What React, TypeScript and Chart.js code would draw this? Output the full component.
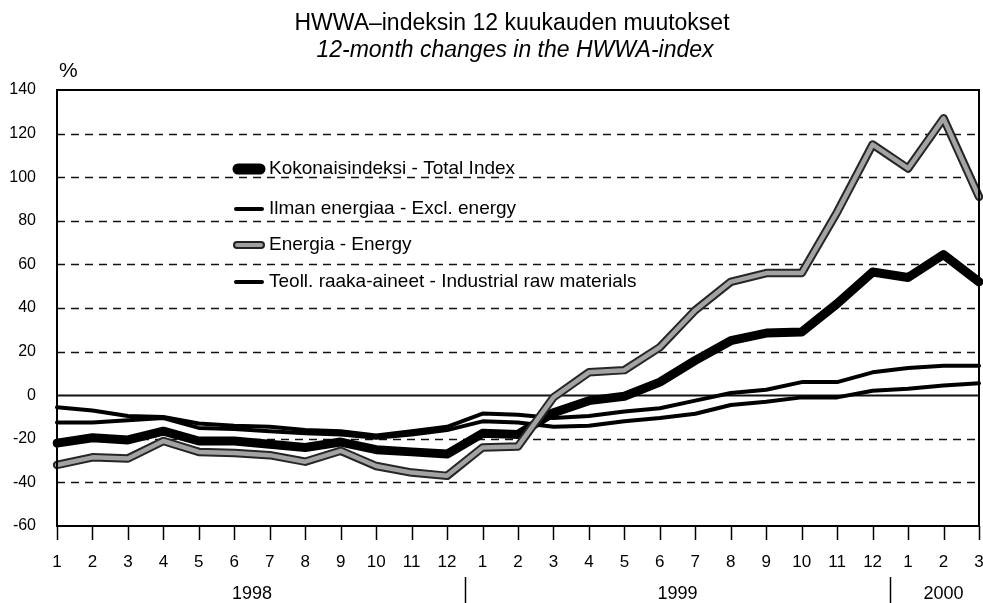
import React, { useEffect, useRef } from 'react';
import { Chart, registerables } from 'chart.js';

Chart.register(...registerables);

// ---- Data ----
const months = ['1', '2', '3', '4', '5', '6', '7', '8', '9', '10', '11', '12',
  '1', '2', '3', '4', '5', '6', '7', '8', '9', '10', '11', '12',
  '1', '2', '3'];
const years = ['1998', '1999', '2000'];
const yearStart = [0, 12, 24];
const yearEnd = [11, 23, 26];

const totalIndex = [-22, -19.5, -20.5, -16.5, -21, -21, -22.5, -24, -21.5, -25, -26, -27,
  -17.5, -18, -8, -2.5, -0.5, 6, 16, 25, 28.5, 29, 42, 56.5, 54, 64.5, 52];
const exclEnergy = [-5.5, -7, -9.5, -10, -13, -14, -14.5, -16, -16.5, -18.5, -16.5, -14.5,
  -8.4, -9, -10.5, -9.5, -7.5, -6, -2.5, 1, 2.5, 6, 6, 10.5, 12.5, 13.5, 13.5];
const energy = [-32, -28.5, -29, -21, -26, -26.5, -27.5, -30.5, -25.5, -32.5, -35.5, -37,
  -24, -23.5, -1, 10.5, 11.5, 22, 39, 52, 56, 56, 84, 115, 104, 127, 91];
const industrialRaw = [-12.5, -12.5, -11.5, -10.5, -15, -15.5, -16.5, -17.5, -18, -19.5, -18, -16,
  -12, -12.5, -14.5, -14, -12, -10.5, -8.5, -4.5, -3, -1, -1, 2, 3, 4.5, 5.5];

const yTicks = [-60, -40, -20, 0, 20, 40, 60, 80, 100, 120, 140];
const yMin = -60;
const yMax = 140;

const legendLabels = [
  'Kokonaisindeksi - Total Index',
  'Ilman energiaa - Excl. energy',
  'Energia - Energy',
  'Teoll. raaka-aineet - Industrial raw materials',
];
const titleFi = 'HWWA\u2013indeksin 12 kuukauden muutokset';
const titleEn = '12-month changes in the HWWA-index';
const unitLabel = '%';

const FONT = "'Liberation Sans', Arial, Helvetica, sans-serif";

const decorPlugin = {
  id: 'decor',
  beforeDraw(chart: any) {
    const ctx = chart.ctx;
    ctx.save();
    ctx.fillStyle = '#ffffff';
    ctx.fillRect(0, 0, chart.width, chart.height);
    ctx.restore();
  },
  beforeDatasetsDraw(chart: any) {
    const { ctx, chartArea: a } = chart;
    const y = chart.scales.y;
    ctx.save();
    ctx.strokeStyle = '#111';
    yTicks.forEach((v) => {
      if (v === yMin || v === yMax) return;
      const py = Math.round(y.getPixelForValue(v)) + 0.5;
      ctx.beginPath();
      ctx.setLineDash(v === 0 ? [] : [8, 6]);
      ctx.lineWidth = v === 0 ? 2 : 1.5;
      ctx.moveTo(a.left, py);
      ctx.lineTo(a.right, py);
      ctx.stroke();
    });
    ctx.restore();
  },
  afterDatasetsDraw(chart: any) {
    const { ctx, chartArea: a } = chart;
    const x = chart.scales.x;
    ctx.save();
    ctx.setLineDash([]);
    // plot border
    ctx.strokeStyle = '#000';
    ctx.lineWidth = 2;
    ctx.strokeRect(a.left, a.top, a.right - a.left, a.bottom - a.top);

    // x tick marks
    ctx.lineWidth = 1.5;
    months.forEach((_, i) => {
      const px = Math.round(x.getPixelForValue(i)) + 0.5;
      ctx.beginPath();
      ctx.moveTo(px, a.bottom);
      ctx.lineTo(px, a.bottom + 14);
      ctx.stroke();
    });

    // year labels and separators
    ctx.fillStyle = '#000';
    ctx.font = `18px ${FONT}`;
    ctx.textAlign = 'center';
    ctx.textBaseline = 'middle';
    years.forEach((yr, k) => {
      const cx = (x.getPixelForValue(yearStart[k]) + x.getPixelForValue(yearEnd[k])) / 2;
      ctx.fillText(yr, cx, 594);
      if (k > 0) {
        const sx = Math.round((x.getPixelForValue(yearEnd[k - 1]) + x.getPixelForValue(yearStart[k])) / 2) + 0.5;
        ctx.beginPath();
        ctx.moveTo(sx, 577);
        ctx.lineTo(sx, 603);
        ctx.stroke();
      }
    });

    // titles
    ctx.font = `23px ${FONT}`;
    ctx.fillText(titleFi, 512, 24);
    ctx.font = `italic 23px ${FONT}`;
    ctx.fillText(titleEn, 515, 51);
    ctx.font = `21px ${FONT}`;
    ctx.textAlign = 'left';
    ctx.fillText(unitLabel, 59, 71);

    // legend
    const lx0 = a.left + 176;
    const lx1 = a.left + 208;
    const tx = a.left + 212;
    const rows = [a.top + 79, a.top + 119, a.top + 155, a.top + 192];
    ctx.lineCap = 'round';
    legendLabels.forEach((lab, i) => {
      const ry = rows[i];
      if (i === 0) {
        ctx.strokeStyle = '#000';
        ctx.lineWidth = 11;
        ctx.beginPath(); ctx.moveTo(lx0 + 5, ry); ctx.lineTo(lx1 - 5, ry); ctx.stroke();
      } else if (i === 2) {
        ctx.strokeStyle = '#222';
        ctx.lineWidth = 8;
        ctx.beginPath(); ctx.moveTo(lx0 + 4, ry); ctx.lineTo(lx1 - 4, ry); ctx.stroke();
        ctx.strokeStyle = '#a0a0a0';
        ctx.lineWidth = 4;
        ctx.beginPath(); ctx.moveTo(lx0 + 4, ry); ctx.lineTo(lx1 - 4, ry); ctx.stroke();
      } else {
        ctx.strokeStyle = '#000';
        ctx.lineWidth = 4;
        ctx.beginPath(); ctx.moveTo(lx0 + 3, ry); ctx.lineTo(lx1 - 3, ry); ctx.stroke();
      }
      ctx.fillStyle = '#000';
      ctx.font = `19px ${FONT}`;
      ctx.textAlign = 'left';
      ctx.textBaseline = 'middle';
      ctx.fillText(lab, tx, ry);
    });
    ctx.restore();
  },
};

export default function App() {
  const ref = useRef<HTMLCanvasElement | null>(null);
  useEffect(() => {
    if (!ref.current) return;
    const common = {
      pointRadius: 0,
      pointHoverRadius: 0,
      tension: 0,
      fill: false,
      borderJoinStyle: 'round' as const,
      borderCapStyle: 'round' as const,
    };
    const chart = new Chart(ref.current, {
      type: 'line',
      data: {
        labels: months,
        datasets: [
          { ...common, label: legendLabels[2], data: energy, borderColor: '#a3a3a3', borderWidth: 4.5, order: 0 },
          { ...common, label: legendLabels[2] + ' outline', data: energy, borderColor: '#262626', borderWidth: 8.5, order: 1 },
          { ...common, label: legendLabels[0], data: totalIndex, borderColor: '#000', borderWidth: 9, order: 2 },
          { ...common, label: legendLabels[1], data: exclEnergy, borderColor: '#000', borderWidth: 4, order: 3 },
          { ...common, label: legendLabels[3], data: industrialRaw, borderColor: '#000', borderWidth: 4, order: 4 },
        ],
      },
      options: {
        responsive: false,
        animation: false,
        events: [],
        layout: { padding: { top: 90, right: 4, left: 0, bottom: 0 } },
        plugins: {
          legend: { display: false },
          title: { display: false },
          tooltip: { enabled: false },
        },
        scales: {
          x: {
            type: 'category',
            grid: {
              display: true,
              drawOnChartArea: false,
              drawTicks: true,
              tickLength: 24,
              color: 'rgba(0,0,0,0)',
              tickColor: 'rgba(0,0,0,0)',
            },
            border: { display: false },
            ticks: {
              color: '#000',
              font: { family: FONT, size: 17 },
              padding: 2,
              maxRotation: 0,
              minRotation: 0,
              autoSkip: false,
            },
            afterFit: (s: any) => { s.height = 77; s.paddingRight = 0; s.paddingLeft = 0; },
          },
          y: {
            min: yMin,
            max: yMax,
            grid: { display: false, drawTicks: false },
            border: { display: false },
            afterBuildTicks: (s: any) => { s.ticks = yTicks.map((v) => ({ value: v })); },
            ticks: {
              color: '#000',
              font: { family: FONT, size: 16 },
              padding: 21,
            },
            afterFit: (s: any) => { s.width = 57; },
          },
        },
      },
      plugins: [decorPlugin],
    });
    return () => chart.destroy();
  }, []);
  return (
    <div style={{ position: 'fixed', left: 0, top: 0, width: 983, height: 603, background: '#fff' }}>
      <canvas ref={ref} width={983} height={603} style={{ width: 983, height: 603, display: 'block' }} />
    </div>
  );
}
